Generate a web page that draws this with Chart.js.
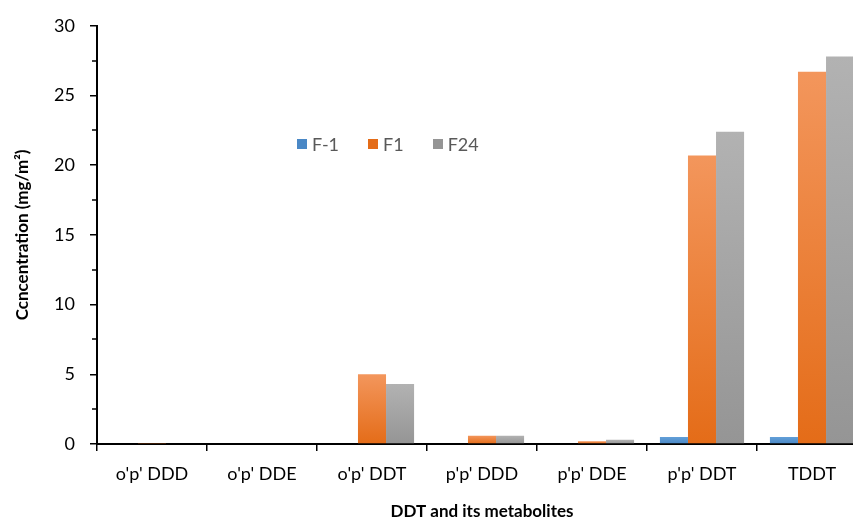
<!DOCTYPE html>
<html>
<head>
<meta charset="utf-8">
<script src="https://cdn.jsdelivr.net/npm/chart.js@4.4.0/dist/chart.umd.min.js"></script>
<style>
  html, body { margin: 0; padding: 0; background: #fff; overflow: hidden; }
  #wrap { position: relative; width: 880px; height: 529px; }
  #legend {
    position: absolute; left: 297px; top: 133px;
    display: flex; font-family: Lato, sans-serif; font-size: 18px; color: #595959;
  }
  #legend .item { display: flex; align-items: center; margin-right: 29px; }
  #legend .box { width: 10px; height: 10px; margin-right: 5px; }
</style>
</head>
<body>
<div id="wrap">
  <canvas id="ddtChart" width="880" height="529"></canvas>
  <div id="legend"></div>
</div>
<script>
// data
const categories = ["o'p' DDD", "o'p' DDE", "o'p' DDT", "p'p' DDD", "p'p' DDE", "p'p' DDT", "TDDT"];
const seriesLabels = ["F-1", "F1", "F24"];
const valuesFm1 = [0, 0, 0, 0, 0, 0.5, 0.5];
const valuesF1 = [0.07, 0, 5.0, 0.6, 0.2, 20.7, 26.7];
const valuesF24 = [0.05, 0, 4.3, 0.6, 0.3, 22.4, 27.8];
const yTicks = [0, 5, 10, 15, 20, 25, 30];
const yMinorTicks = [2.5, 7.5, 12.5, 17.5, 22.5, 27.5];

const FONT = "Lato, sans-serif";

// colour pairs: top of bar (light) -> base (dark)
const shades = [
    ['#629fd8', '#4a88c6'],
    ['#f3965c', '#e46c18'],
    ['#b2b2b2', '#959595']
];

function barFill(top, bottom) {
    return function (ctx) {
        const chart = ctx.chart;
        const ys = chart.scales.y;
        if (!chart.chartArea || !ys || ctx.raw == null) return bottom;
        const y1 = ys.getPixelForValue(ctx.raw);
        const y0 = ys.getPixelForValue(0);
        if (y0 - y1 < 1) return bottom;
        const g = chart.ctx.createLinearGradient(0, y1, 0, y0);
        g.addColorStop(0, top);
        g.addColorStop(1, bottom);
        return g;
    };
}

// short ticks between the labelled ones
const minorTicks = {
    id: 'minorTicks',
    afterDraw(chart) {
        const ys = chart.scales.y;
        const c = chart.ctx;
        c.save();
        c.strokeStyle = '#000';
        c.lineWidth = 1.5;
        yMinorTicks.forEach(v => {
            const py = Math.round(ys.getPixelForValue(v));
            c.beginPath();
            c.moveTo(ys.right - 5, py);
            c.lineTo(ys.right, py);
            c.stroke();
        });
        c.restore();
    }
};

const allValues = [valuesFm1, valuesF1, valuesF24];

const ctx = document.getElementById('ddtChart').getContext('2d');
const chart = new Chart(ctx, {
    type: 'bar',
    data: {
        labels: categories,
        datasets: allValues.map((vals, i) => ({
            label: seriesLabels[i],
            data: vals,
            backgroundColor: barFill(shades[i][0], shades[i][1]),
            borderWidth: 0,
            categoryPercentage: 0.765,
            barPercentage: 1
        }))
    },
    options: {
        responsive: false,
        animation: false,
        devicePixelRatio: 1,
        layout: { padding: { top: 24, right: 13, left: 0, bottom: 0 } },
        plugins: {
            legend: { display: false },
            tooltip: { enabled: false }
        },
        scales: {
            x: {
                grid: {
                    offset: true,
                    drawOnChartArea: false,
                    drawTicks: true,
                    tickLength: 7,
                    color: '#000',
                    lineWidth: 1.5
                },
                border: { color: '#000', width: 2 },
                ticks: { color: '#000', font: { family: FONT, size: 18 }, padding: 12, maxRotation: 0 },
                title: {
                    display: true,
                    text: 'DDT and its metabolites',
                    color: '#000',
                    font: { family: FONT, size: 17, weight: 'bold' },
                    padding: { top: 0, bottom: 7 }
                },
                afterFit(scale) { scale.height = 85; }
            },
            y: {
                min: 0,
                max: 30,
                afterBuildTicks(scale) { scale.ticks = yTicks.map(v => ({ value: v })); },
                grid: {
                    drawOnChartArea: false,
                    drawTicks: true,
                    tickLength: 7,
                    color: '#000',
                    lineWidth: 1.5
                },
                border: { color: '#000', width: 2 },
                ticks: { color: '#000', font: { family: FONT, size: 18 }, padding: 15 },
                title: {
                    display: true,
                    text: 'Ccncentration (mg/m²)',
                    color: '#000',
                    font: { family: FONT, size: 17, weight: 'bold' },
                    padding: { top: 12, bottom: 0 }
                },
                afterFit(scale) { scale.width = 97; }
            }
        }
    },
    plugins: [minorTicks]
});

// legend sits inside the plot like the original
const legend = document.getElementById('legend');
seriesLabels.forEach((name, i) => {
    const item = document.createElement('div');
    item.className = 'item';
    const box = document.createElement('span');
    box.className = 'box';
    box.style.background = shades[i][1];
    const txt = document.createElement('span');
    txt.textContent = name;
    item.appendChild(box);
    item.appendChild(txt);
    legend.appendChild(item);
});
</script>
</body>
</html>
